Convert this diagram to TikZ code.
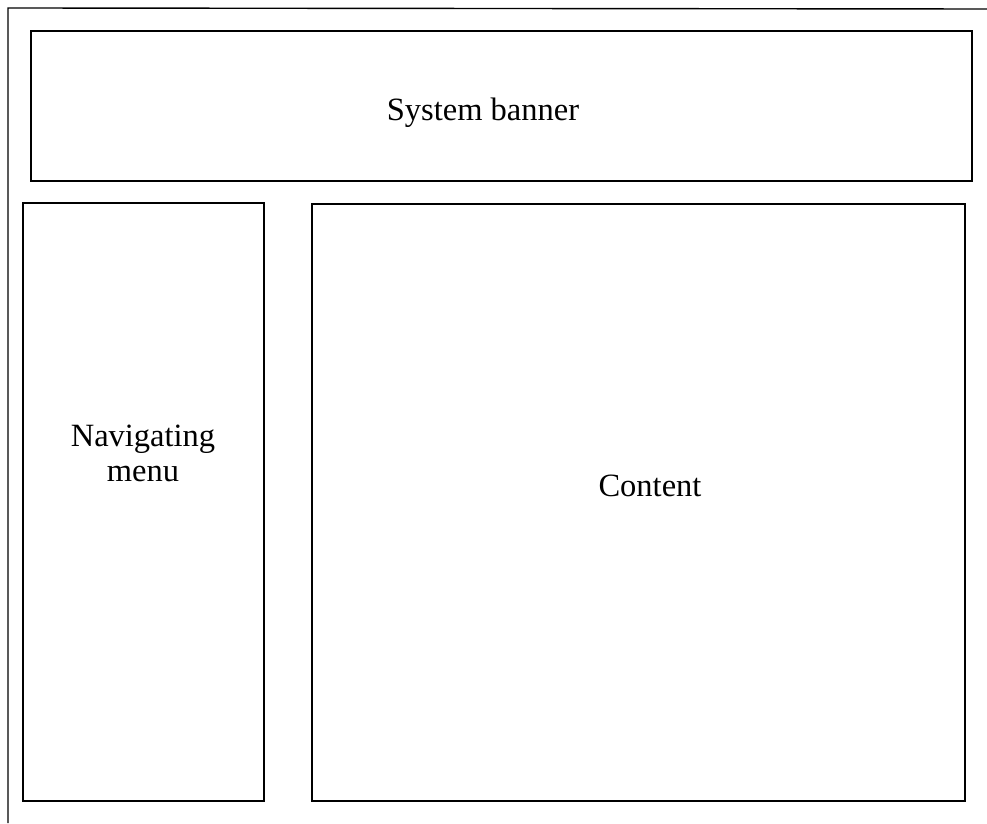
\documentclass[tikz,border=0pt]{standalone}
\usepackage{fontspec}
\setmainfont{Liberation Serif}
\begin{document}
\begin{tikzpicture}[x=1pt,y=1pt,
  panel/.style={draw=black,line width=1.6pt,fill=white,inner sep=0pt},
  frameline/.style={draw=black,line width=1.4pt},
  lbl/.style={font=\fontsize{32.5}{35}\selectfont,align=center}]
\useasboundingbox (0,0) rectangle (987,823);
\fill[white] (0,0) rectangle (987,823);
% page frame: only the top and left edges are visible
\coordinate (fbl) at (8,0);
\coordinate (ftl) at (8,815);
\coordinate (ftr) at (987,814);
\draw[frameline] (fbl) -- (ftl) -- (ftr);
% layout panels
\draw[panel] (31,642) rectangle (972,792);
\node[lbl] (banner) at (483,710) {System banner};
\draw[panel] (23,22) rectangle (264,620);
\node[lbl] (nav) at (143,370) {Navigating\\menu};
\draw[panel] (312,22) rectangle (965,619);
\node[lbl] (content) at (650,337) {Content};
\end{tikzpicture}
\end{document}
